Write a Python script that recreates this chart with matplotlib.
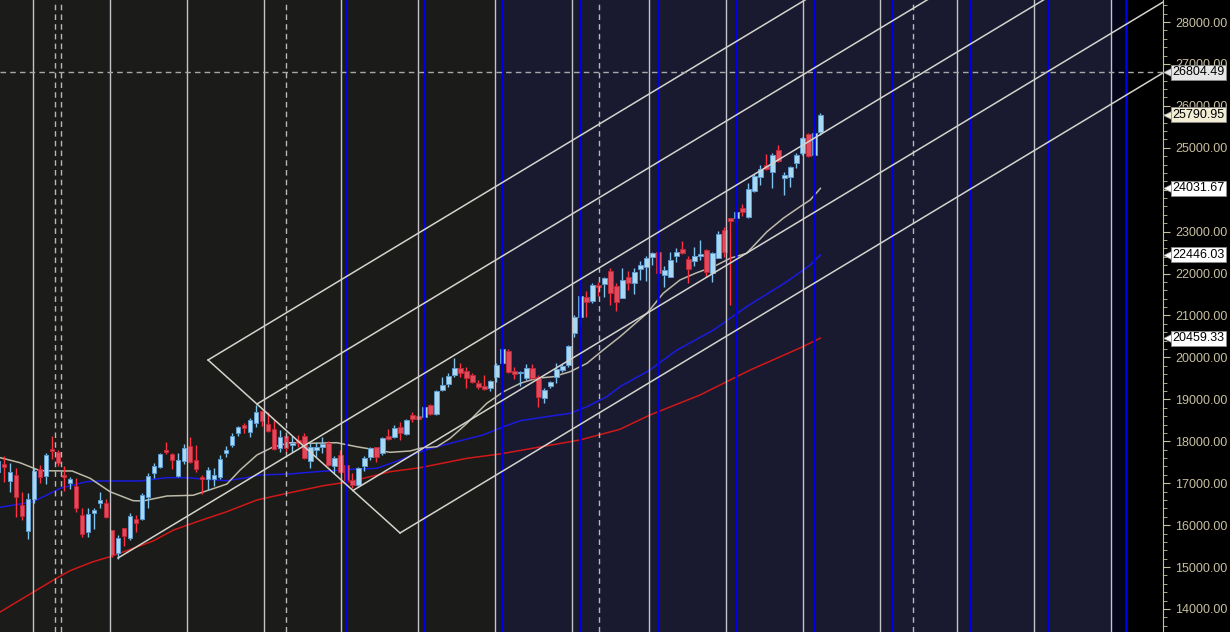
import numpy as np
import matplotlib.pyplot as plt
from matplotlib.ticker import MultipleLocator, FixedLocator
from matplotlib.transforms import blended_transform_factory

plt.rcParams['font.family'] = ['Liberation Sans', 'DejaVu Sans']

# daily candles (bar index = position)
opens = [17276, 17459, 17061, 17196, 16473, 15869, 16624, 17331, 17180, 17816,
         17753, 17196, 16998, 16934, 16242, 15845, 16282, 16520, 16528, 15884,
         15328, 15932, 15702, 16139, 16139, 16664, 17236, 17395, 17792, 17697,
         17180, 17538, 17888, 17554, 17157, 17093, 17093, 17141, 17729, 17904,
         18206, 18381, 18230, 18429, 18722, 18412, 18293, 17832, 18126, 17912,
         18031, 18126, 17538, 17792, 17856, 17951, 17411, 17673, 17434, 17077,
         16958, 17411, 17617, 17856, 17713, 18126, 18110, 18333, 18174, 18627,
         18600, 18571, 18866, 18651, 19223, 19366, 19581, 19748, 19676, 19581,
         19398, 19319, 19279, 19525, 19875, 20153, 19676, 19621, 19509, 19748,
         19541, 19025, 19318, 19525, 19700, 19819, 20591, 20956, 21433, 21354,
         21727, 21743, 22061, 21704, 21425, 21910, 21783, 22101, 22149, 22387,
         22507, 21966, 21926, 22427, 22578, 22340, 22300, 22419, 22562, 22006,
         22379, 23039, 23317, 23317, 23572, 23357, 23977, 24311, 24590, 24430,
         24947, 24287, 24295, 24629, 24884, 25329, 24828, 25384]
highs = [17600, 17649, 17474, 17355, 16799, 16759, 17355, 17435, 17713, 18126,
         17792, 17411, 17157, 17117, 16401, 16401, 16401, 16799, 16624, 15884,
         15765, 15932, 16298, 16242, 16775, 17236, 17474, 17729, 17983, 17713,
         17713, 17928, 18094, 17912, 17196, 17379, 17355, 17665, 17896, 18190,
         18365, 18436, 18548, 18866, 18746, 18706, 18508, 18269, 18206, 18126,
         18150, 18190, 17951, 17991, 18110, 18015, 17649, 17792, 17434, 17236,
         17395, 17649, 17856, 17872, 18094, 18285, 18388, 18468, 18524, 18706,
         18650, 18850, 18890, 19223, 19525, 19621, 19978, 19859, 19780, 19637,
         19462, 19581, 19462, 19859, 20225, 20201, 19780, 19676, 19843, 19843,
         19581, 19263, 19438, 19859, 19843, 20297, 21012, 21500, 21584, 21783,
         21807, 21926, 22125, 21767, 22125, 22069, 22125, 22300, 22419, 22523,
         22507, 22181, 22507, 22602, 22777, 22419, 22642, 22801, 22578, 22523,
         23015, 23103, 23330, 23492, 23659, 24152, 24375, 24590, 24852, 24868,
         25066, 24430, 24566, 24868, 25249, 25345, 25424, 25822]
lows = [17200, 17037, 16799, 16202, 16123, 15662, 16536, 16998, 16982, 17578,
        17411, 16823, 16870, 16322, 15726, 15726, 15900, 16417, 16163, 15248,
        15185, 15511, 15646, 15845, 16123, 16417, 17117, 17355, 17697, 17331,
        17157, 17459, 17474, 17276, 16735, 16839, 16934, 17109, 17634, 17872,
        18126, 18190, 18111, 18349, 18365, 18230, 17792, 17752, 17752, 17752,
        17856, 17570, 17355, 17633, 17713, 17411, 17252, 17236, 17037, 16878,
        16918, 17299, 17554, 17514, 17673, 18031, 18071, 18031, 18150, 18468,
        18500, 18540, 18627, 18627, 19207, 19303, 19541, 19525, 19279, 19382,
        19239, 19223, 19207, 19422, 19850, 19637, 19478, 19318, 19462, 19493,
        18826, 18921, 19279, 19398, 19660, 19780, 20495, 20750, 20956, 21306,
        21465, 21433, 21250, 21115, 21409, 21608, 21513, 21847, 21831, 22204,
        21886, 21688, 21910, 22284, 22467, 21767, 22181, 22324, 21910, 21807,
        22363, 22403, 21250, 23198, 23373, 23333, 23953, 24112, 24470, 24033,
        24669, 23874, 24073, 24510, 24828, 24788, 24749, 25305]
closes = [17530, 17379, 17260, 16664, 16226, 16616, 17292, 17141, 17673, 17769,
          17474, 17157, 17101, 16401, 15781, 16266, 16362, 16600, 16187, 15288,
          15686, 15749, 16218, 16043, 16719, 17172, 17411, 17697, 17753, 17546,
          17554, 17832, 17514, 17331, 17093, 17316, 17188, 17570, 17792, 18126,
          18341, 18309, 18508, 18699, 18492, 18253, 17808, 18094, 17832, 17951,
          17951, 17593, 17872, 17872, 17935, 17434, 17593, 17276, 17077, 16958,
          17355, 17593, 17832, 17617, 18071, 18047, 18309, 18190, 18508, 18524,
          18540, 18826, 18651, 19199, 19342, 19557, 19740, 19637, 19501, 19422,
          19303, 19255, 19438, 19819, 20201, 19660, 19605, 19652, 19748, 19509,
          19048, 19223, 19414, 19716, 19796, 20273, 20956, 21465, 21330, 21727,
          21688, 21886, 21545, 21330, 21847, 21767, 22045, 22204, 22363, 22499,
          22006, 22085, 22324, 22507, 22483, 22109, 22419, 22467, 22045, 22499,
          22944, 22523, 23262, 23461, 23476, 24009, 24327, 24486, 24486, 24828,
          24693, 24351, 24534, 24828, 25225, 24804, 25345, 25790.95]

# moving averages sampled from the chart (bar index, price)
ma20_x = [0.3, 3.6, 6.95, 12.3, 15.3, 18.6, 22.45, 24.1, 28.1, 32.45, 35.8, 38.1,
          40.3, 43.1, 45.8, 48.6, 51.95, 56.4, 59.7, 65.3, 68.6, 70.3, 73.1, 75.3,
          78.1, 81.4, 84.2, 87.0, 89.7, 92.5, 95.3, 98.1, 100.8, 103.6, 108.1,
          110.8, 113.6, 116.4, 119.2, 121.95, 124.7, 128.1, 130.8, 133.6, 135.3, 137.0]
ma20_y = [17609, 17489, 17298, 17291, 17117, 16798, 16583, 16576, 16695, 16712,
          16869, 16981, 17315, 17673, 17864, 17966, 17952, 17966, 17871, 17737,
          17768, 17833, 17871, 18071, 18429, 18906, 19183, 19383, 19502, 19540,
          19660, 19860, 20177, 20494, 21052, 21529, 21847, 22021, 22164, 22364,
          22483, 22999, 23318, 23595, 23755, 24031.67]
ma50_x = [0.3, 3.6, 5.8, 8.1, 10.3, 12.5, 14.7, 16.95, 23.6, 28.1, 31.4, 34.7,
          38.1, 41.4, 43.6, 48.6, 53.1, 59.2, 63.1, 66.95, 70.8, 75.3, 80.8, 84.2,
          87.0, 92.5, 95.3, 98.1, 101.4, 103.6, 108.6, 113.1, 119.2, 124.7, 131.4,
          135.3, 137.0]
ma50_y = [16426, 16504, 16559, 16719, 16879, 16957, 17036, 17053, 17053, 17132,
          17132, 17093, 17060, 17132, 17196, 17220, 17275, 17332, 17356, 17554,
          17776, 17952, 18150, 18348, 18491, 18610, 18667, 18825, 19063, 19302,
          19700, 20177, 20654, 21210, 21806, 22204, 22446.03]
ma200_x = [0.3, 9.2, 11.95, 15.8, 18.6, 22.5, 25.8, 29.2, 33.6, 38.1, 43.1, 48.6,
           54.2, 58.6, 65.3, 70.3, 78.1, 83.6, 96.95, 103.6, 108.6, 116.95, 125.3,
           133.6, 137.0]
ma200_y = [13928, 14692, 14913, 15128, 15247, 15448, 15622, 15884, 16106, 16321,
           16600, 16774, 16941, 17036, 17275, 17370, 17594, 17697, 18031, 18286,
           18627, 19104, 19700, 20225, 20459.33]

# time cycle lines (bar positions)
cycle_white = [5.8, 18.6, 31.5, 44.3, 57.1, 70.0, 82.8, 95.6, 108.5, 121.3,
               134.1, 147.0, 159.8, 172.6, 185.5]
cycle_blue = [58.0, 71.0, 84.0, 97.0, 110.0, 123.0, 136.0, 149.0, 162.0,
              175.0, 188.0]
cycle_dashed = [9.5, 10.5, 48.0, 100.1, 152.4]

# channel: cross segment and parallel rising lines (bar, price), slope per bar
cross_seg = [(34.95, 19939), (66.95, 15813)]
channel_starts = [(34.95, 19939), (43.1, 18888), (19.95, 15216),
                  (59.1, 16825), (66.95, 15813)]
channel_slope = 86.3

level_price = 26804.49
tags = [(26804.49, '#e6e6e6'), (25790.95, '#f2eed6'), (24031.67, '#ffffff'),
        (22446.03, '#ffffff'), (20459.33, '#ffffff')]

x_lo, x_hi = 0.28, 194.1
y_lo, y_hi = 13451, 28525

fig = plt.figure(figsize=(12.3, 6.32), dpi=100, facecolor='black')
ax = fig.add_axes([0, 0, 1163 / 1230, 1])
ax.set_facecolor('black')
ax.set_xlim(x_lo, x_hi)
ax.set_ylim(y_lo, y_hi)

# background zones
ax.axvspan(x_lo, 82.8, color='#1b1b19', zorder=0)
ax.axvspan(82.8, 185.5, color='#191a30', zorder=0)
ax.axvspan(185.5, 188.0, color='#05051a', zorder=0)

# moving averages
ax.plot(ma200_x, ma200_y, color='#d01818', lw=1.1, zorder=2)
ax.plot(ma50_x, ma50_y, color='#1a1ae0', lw=1.1, zorder=2)
ax.plot(ma20_x, ma20_y, color='#bdbaa8', lw=1.1, zorder=2)

# candles
x = np.arange(len(opens))
o = np.array(opens)
c = np.array(closes)
up = c >= o
wick_col = np.where(up, '#7cc4ee', '#ff3040')
ax.vlines(x, lows, highs, colors=wick_col, lw=1, zorder=3)
bottom = np.minimum(o, c)
height = np.maximum(np.abs(c - o), 12)
ax.bar(x[up], height[up], bottom=bottom[up], width=0.72, color='#a9d8f2',
       edgecolor='#5e9ccf', lw=0.7, zorder=4)
ax.bar(x[~up], height[~up], bottom=bottom[~up], width=0.72, color='#e04a5a',
       edgecolor='#c02838', lw=0.7, zorder=4)

# cycle lines
for v in cycle_white:
    ax.axvline(v, color='#c4c4c8', lw=1, zorder=5)
for v in cycle_dashed:
    ax.axvline(v, color='#b8b8bc', lw=1, ls=(0, (4, 3)), zorder=5)
for v in cycle_blue:
    ax.axvline(v, color='#0000e6', lw=1.8, zorder=5)

# channel lines
(cx0, cy0), (cx1, cy1) = cross_seg
ax.plot([cx0, cx1], [cy0, cy1], color='#d4d4cc', lw=1.1, zorder=6)
for sx, sy in channel_starts:
    ax.plot([sx, x_hi + 5], [sy, sy + channel_slope * (x_hi + 5 - sx)],
            color='#d4d4cc', lw=1.1, zorder=6)

ax.axhline(level_price, color='#a8a8a8', lw=1, ls=(0, (4, 3)), zorder=6)

# right price axis
for s in ['top', 'bottom', 'left']:
    ax.spines[s].set_visible(False)
ax.spines['right'].set_color('#c8c0a0')
ax.set_xticks([])
ax.yaxis.tick_right()
ticks = list(range(14000, 28001, 1000))
ax.yaxis.set_major_locator(FixedLocator(ticks))
ax.set_yticklabels([f'{t:.2f}' for t in ticks])
ax.yaxis.set_minor_locator(MultipleLocator(200))
ax.tick_params(axis='y', which='major', colors='#c8c0a0', length=5,
               labelsize=9, pad=4)
ax.tick_params(axis='y', which='minor', colors='#c8c0a0', length=3)

trans = blended_transform_factory(ax.transAxes, ax.transData)
for price, fc in tags:
    ax.text(1 + 9 / 1163, price, f'{price:.2f}', transform=trans, ha='left',
            va='center', fontsize=9, color='black', clip_on=False, zorder=10,
            bbox=dict(boxstyle='square,pad=0.12', fc=fc, ec='#8a8a8a', lw=0.6))
    ax.plot([1 + 4 / 1163], [price], marker='<', ms=6, color=fc,
            mec='#8a8a8a', mew=0.5, transform=trans, clip_on=False, zorder=10)

fig.savefig('out.png', dpi=100, facecolor='black')
